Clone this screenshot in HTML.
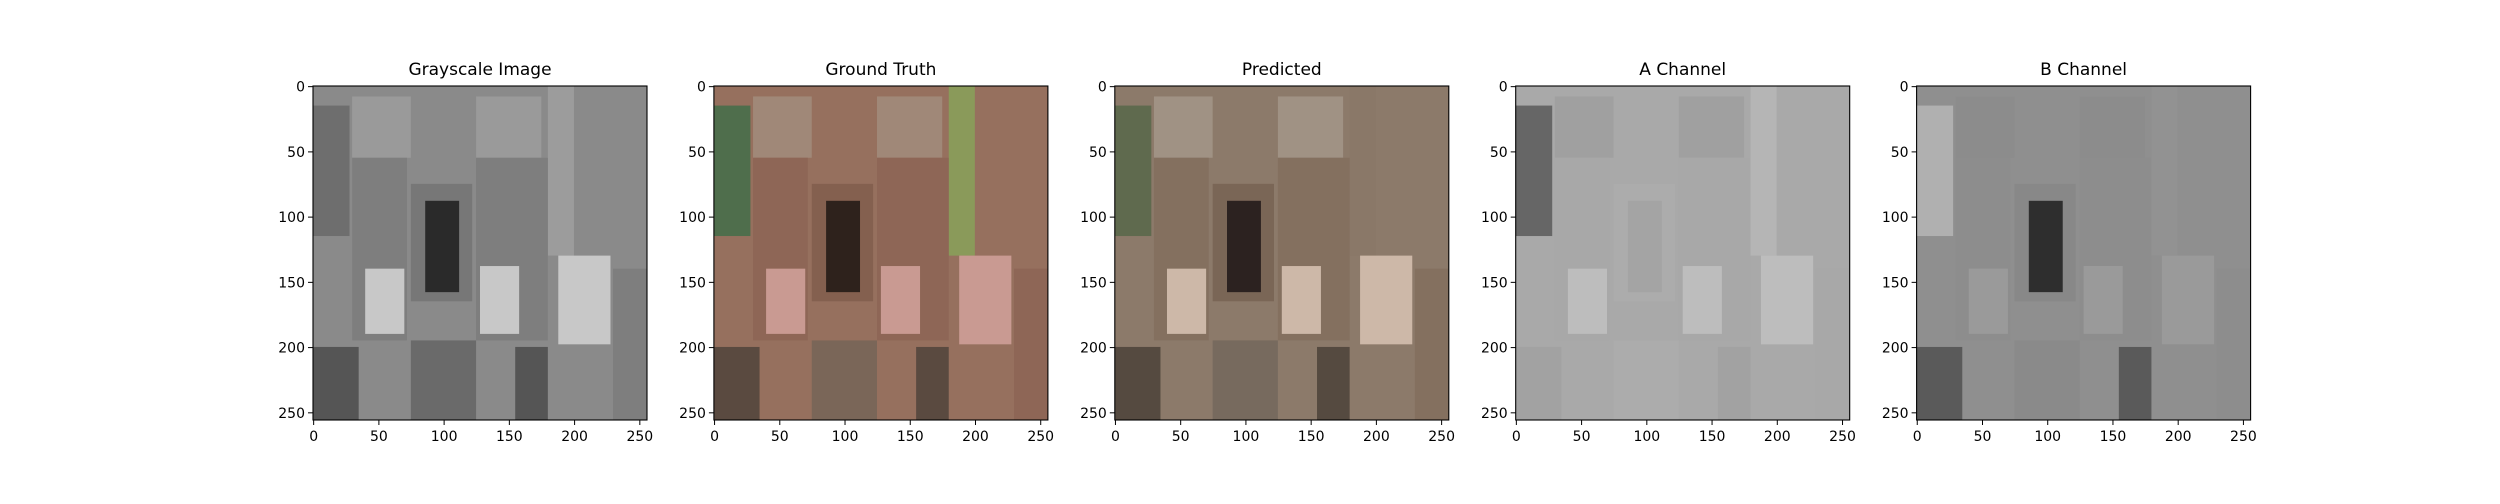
<!DOCTYPE html>
<html><head><meta charset="utf-8">
<style>
html,body{margin:0;padding:0;background:#fff;}
#fig{position:relative;width:2500px;height:500px;background:#fff;font-family:"DejaVu Sans","Liberation Sans",sans-serif;}
</style></head>
<body>
<div id="fig">
<svg id="svg" width="2500" height="500" xmlns="http://www.w3.org/2000/svg" font-family="DejaVu Sans, Liberation Sans, sans-serif"></svg>
</div>
<script>
// data
const panelTitles = ["Grayscale Image", "Ground Truth", "Predicted", "A Channel", "B Channel"];
const tickValues = [0, 50, 100, 150, 200, 250];
const imageSize = [256, 256];
// approximate image regions [x0,y0,x1,y1] in pixel-index units with tone key
const regions = [
  [0,0,256,256,"base"],
  [0,15,28,115,"foliage"],
  [30,8,75,55,"upper"],
  [125,8,175,55,"upper"],
  [180,0,200,130,"gap"],
  [30,55,72,195,"wall"],
  [125,55,180,195,"wall"],
  [75,75,122,165,"frame"],
  [86,88,112,158,"door"],
  [40,140,70,190,"statue"],
  [128,138,158,190,"statue"],
  [188,130,228,198,"statue"],
  [0,200,35,256,"dark"],
  [155,200,180,256,"dark"],
  [75,195,125,256,"steps"],
  [230,140,256,256,"wall"]
];
const palettes = [
  {base:"#8a8a8a",foliage:"#6e6e6e",upper:"#9a9a9a",gap:"#9c9c9c",wall:"#7e7e7e",frame:"#777",door:"#2a2a2a",statue:"#c8c8c8",dark:"#555",steps:"#6a6a6a"},
  {base:"#96705e",foliage:"#4f6e4c",upper:"#a08878",gap:"#8a9a5a",wall:"#8e6656",frame:"#84604f",door:"#2e221c",statue:"#c99a92",dark:"#5a4a40",steps:"#7a6658"},
  {base:"#8c7a6a",foliage:"#5f6a4e",upper:"#a09284",gap:"#8a7868",wall:"#84705f",frame:"#7a6656",door:"#2c2220",statue:"#cdb8a8",dark:"#554a40",steps:"#776a5e"},
  {base:"#a9a9a9",foliage:"#666",upper:"#a0a0a0",gap:"#b5b5b5",wall:"#a8a8a8",frame:"#acacac",door:"#a4a4a4",statue:"#bdbdbd",dark:"#a2a2a2",steps:"#acacac"},
  {base:"#8f8f8f",foliage:"#b0b0b0",upper:"#8c8c8c",gap:"#929292",wall:"#8d8d8d",frame:"#888",door:"#2e2e2e",statue:"#9a9a9a",dark:"#5a5a5a",steps:"#8a8a8a"}
];
const NS = "http://www.w3.org/2000/svg";
const svg = document.getElementById("svg");
const axLeft0 = 313, axStep = 400.9, axW = 334, axTop = 86, axH = 334;
function mk(tag, attrs, parent){
  const e = document.createElementNS(NS, tag);
  for (const k in attrs) e.setAttribute(k, attrs[k]);
  (parent||svg).appendChild(e);
  return e;
}
function xScale(left, v){ return left + (v + 0.5) / imageSize[0] * axW; }
function yScale(v){ return axTop + (v + 0.5) / imageSize[1] * axH; }
panelTitles.forEach((title, i) => {
  const left = axLeft0 + i * axStep;
  const g = mk("g", {});
  
  
  const img = mk("g", {}, g);
  
  
  const pal = palettes[i];
  regions.forEach(r => {
    const x0 = xScale(left, r[0] - 0.5), x1 = xScale(left, r[2] - 0.5);
    const y0 = yScale(r[1] - 0.5), y1 = yScale(r[3] - 0.5);
    const rc = mk("rect", {x:x0, y:y0, width:x1 - x0, height:y1 - y0, fill:pal[r[4]]}, img);
    
    
  });
  const frame = mk("rect", {x:left, y:axTop, width:axW, height:axH, fill:"none", stroke:"#000", "stroke-width":1.1}, g);
  
  
  const t = mk("text", {x:left + axW / 2, y:axTop - 11, "text-anchor":"middle", "font-size":17, fill:"#000"}, g);
  t.textContent = title;
  
  
  tickValues.forEach(v => {
    const x = xScale(left, v), y = yScale(v);
    const tl = mk("line", {x1:x, y1:axTop + axH, x2:x, y2:axTop + axH + 5, stroke:"#000", "stroke-width":1}, g);
    
    
    const tx = mk("text", {x:x, y:axTop + axH + 21, "text-anchor":"middle", "font-size":14, fill:"#000"}, g);
    tx.textContent = v;
    
    
    const yl = mk("line", {x1:left - 5, y1:y, x2:left, y2:y, stroke:"#000", "stroke-width":1}, g);
    
    
    const ty = mk("text", {x:left - 8, y:y + 5, "text-anchor":"end", "font-size":14, fill:"#000"}, g);
    ty.textContent = v;
    
    
  });
});
</script>
</body></html>
